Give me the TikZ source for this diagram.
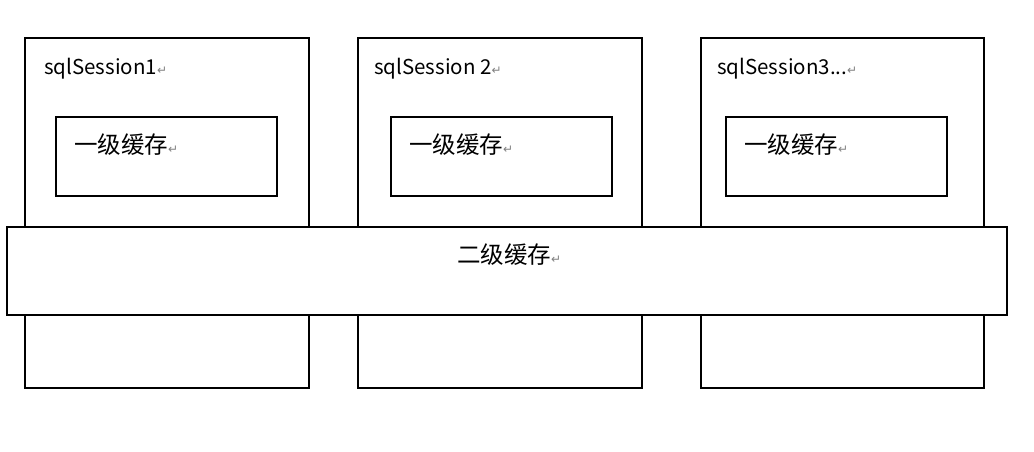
\documentclass[tikz,border=0pt]{standalone}
\usepackage{fontspec}
\setmainfont{Noto Sans CJK SC}
\newfontfamily\symf{DejaVu Sans}
\newcommand{\ret}{{\symf\fontsize{12}{12}\selectfont\color{gray}↵}}
\begin{document}
\begin{tikzpicture}[x=1pt,y=-1pt,
  box/.style={draw=black,line width=1.4pt,fill=white},
  lbl/.style={anchor=base west,inner sep=0pt,font=\fontsize{20.5}{20.5}\selectfont},
  cjk/.style={anchor=west,inner sep=0pt,font=\fontsize{23.5}{23.5}\selectfont}]
\useasboundingbox[fill=white] (0,0) rectangle (1034,452);
% session boxes
\draw[box] (25,38) rectangle (309,388) coordinate (s1);
\draw[box] (358,38) rectangle (642,388) coordinate (s2);
\draw[box] (701,38) rectangle (984,388) coordinate (s3);
% first-level caches
\draw[box] (56,117) rectangle (277,196);
\draw[box] (391,117) rectangle (612,196);
\draw[box] (726,117) rectangle (947,196);
% second-level cache
\draw[box] (7,227) rectangle (1007,315);
% labels
\node[lbl] (t1) at (44,75) {sqlSession1\ret};
\node[lbl] (t2) at (374,75) {sqlSession 2\ret};
\node[lbl] (t3) at (717,75) {sqlSession3...\ret};
\node[cjk] (c1) at (74,145) {一级缓存\ret};
\node[cjk] (c2) at (409,145) {一级缓存\ret};
\node[cjk] (c3) at (744,145) {一级缓存\ret};
\node[cjk] (c4) at (457,255) {二级缓存\ret};
\end{tikzpicture}
\end{document}
